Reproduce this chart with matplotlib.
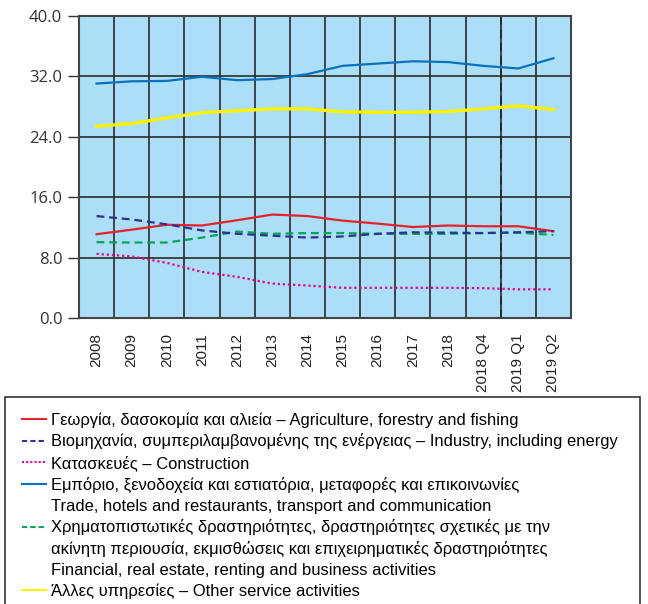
import matplotlib
matplotlib.use("Agg")
import matplotlib.pyplot as plt
from matplotlib.lines import Line2D
from matplotlib.patches import Rectangle
from matplotlib import font_manager

categories = ["2008", "2009", "2010", "2011", "2012", "2013", "2014", "2015",
              "2016", "2017", "2018", "2018 Q4", "2019 Q1", "2019 Q2"]

agriculture = [11.1, 11.7, 12.35, 12.25, 12.95, 13.7, 13.5, 12.9, 12.5, 12.05, 12.25, 12.15, 12.15, 11.5]
industry = [13.5, 13.05, 12.4, 11.6, 11.15, 10.9, 10.65, 10.8, 11.15, 11.35, 11.3, 11.25, 11.35, 11.5]
construction = [8.5, 8.15, 7.3, 6.1, 5.45, 4.55, 4.3, 4.0, 4.0, 4.0, 4.0, 3.95, 3.8, 3.8]
trade = [31.05, 31.35, 31.4, 31.95, 31.5, 31.65, 32.3, 33.4, 33.7, 34.0, 33.9, 33.4, 33.05, 34.4]
financial = [10.05, 10.0, 10.0, 10.65, 11.45, 11.15, 11.25, 11.25, 11.15, 11.15, 11.15, 11.25, 11.3, 11.0]
other = [25.4, 25.75, 26.5, 27.2, 27.45, 27.7, 27.7, 27.3, 27.25, 27.25, 27.35, 27.7, 28.1, 27.6]

yticks = [0, 8, 16, 24, 32, 40]
ytick_labels = ["0.0", "8.0", "16.0", "24.0", "32.0", "40.0"]

legend_labels = [
    "Γεωργία, δασοκομία και αλιεία – Agriculture, forestry and fishing",
    "Βιομηχανία, συμπεριλαμβανομένης της ενέργειας – Industry, including energy",
    "Κατασκευές – Construction",
    "Εμπόριο, ξενοδοχεία και εστιατόρια, μεταφορές και επικοινωνίες",
    "Trade, hotels and restaurants, transport and communication",
    "Χρηματοπιστωτικές δραστηριότητες, δραστηριότητες σχετικές με την",
    "ακίνητη περιουσία, εκμισθώσεις και επιχειρηματικές δραστηριότητες",
    "Financial, real estate, renting and business activities",
    "Άλλες υπηρεσίες – Other service activities",
]

names = {f.name for f in font_manager.fontManager.ttflist}
legend_font = "Liberation Sans Narrow" if "Liberation Sans Narrow" in names else "Liberation Sans"

W, H = 648, 604
fig = plt.figure(figsize=(W / 100, H / 100), dpi=100)
ax = fig.add_axes([79 / W, 1 - 318 / H, (571 - 79) / W, (318 - 16) / H])
ax.set_facecolor("#abdff8")

x = list(range(len(categories)))
c_red, c_navy, c_pink, c_blue, c_green, c_yellow = "#e8222d", "#2e3192", "#ec008c", "#0a72bc", "#00a651", "#fff200"

ax.plot(x, trade, color=c_blue, lw=1.6, zorder=3)
ax.plot(x, other, color=c_yellow, lw=2.4, zorder=3)
ax.plot(x, agriculture, color=c_red, lw=1.6, zorder=3)
ax.plot(x, financial, color=c_green, lw=1.6, ls=(0, (3.5, 2.2)), zorder=3)
ax.plot(x, industry, color=c_navy, lw=1.6, ls=(0, (3.5, 2.2)), zorder=3)
ax.plot(x, construction, color=c_pink, lw=1.6, ls=(0, (1, 1.3)), zorder=3)

ax.set_xlim(-0.5, len(categories) - 0.5)
ax.set_ylim(0, 40)
ax.set_yticks(yticks)
ax.set_yticklabels(ytick_labels, fontsize=12, color="#333333", family="Open Sans")
ax.tick_params(axis="y", length=8, width=1, color="#333333", pad=4)
ax.set_xticks(x)
ax.set_xticklabels(categories, rotation=90, fontsize=11, family="Liberation Sans", color="#222222")
ax.tick_params(axis="x", length=0, pad=11)
ax.set_xticks([i - 0.5 for i in range(len(categories) + 1)], minor=True)
ax.tick_params(axis="x", which="minor", length=0)
ax.grid(True, axis="x", which="minor", color="#2a2a2a", lw=1.2, zorder=1)
ax.grid(True, axis="y", which="major", color="#2a2a2a", lw=1.2, zorder=1)
ax.set_axisbelow(True)
ax.axvline(11.5, color="#222222", lw=1.2, ls=(0, (5, 3)), zorder=2)
for s in ax.spines.values():
    s.set_color("#444444")
    s.set_linewidth(1.5)

# legend frame
fig.patches.append(Rectangle((5 / W, -0.05), (640 - 5) / W, (1 - 397 / H) + 0.05,
                             transform=fig.transFigure, fill=False, edgecolor="#333333", lw=1.2))

handles = [
    Line2D([], [], color=c_red, lw=1.5),
    Line2D([], [], color=c_navy, lw=1.5, ls=(0, (2.5, 1.5))),
    Line2D([], [], color=c_pink, lw=1.5, ls=(0, (1, 1))),
    Line2D([], [], color=c_blue, lw=1.5),
    Line2D([], [], ls="none"),
    Line2D([], [], color=c_green, lw=1.5, ls=(0, (2.5, 1.5))),
    Line2D([], [], ls="none"),
    Line2D([], [], ls="none"),
    Line2D([], [], color=c_yellow, lw=1.5),
]
fig.legend(handles, legend_labels, loc="upper left", bbox_to_anchor=(22 / W, 1 - 412 / H),
           frameon=False, prop={"family": legend_font, "size": 11.9},
           handlelength=1.45, handletextpad=0.3, labelspacing=0.35, borderpad=0, borderaxespad=0)

fig.savefig("out.png", dpi=100)
